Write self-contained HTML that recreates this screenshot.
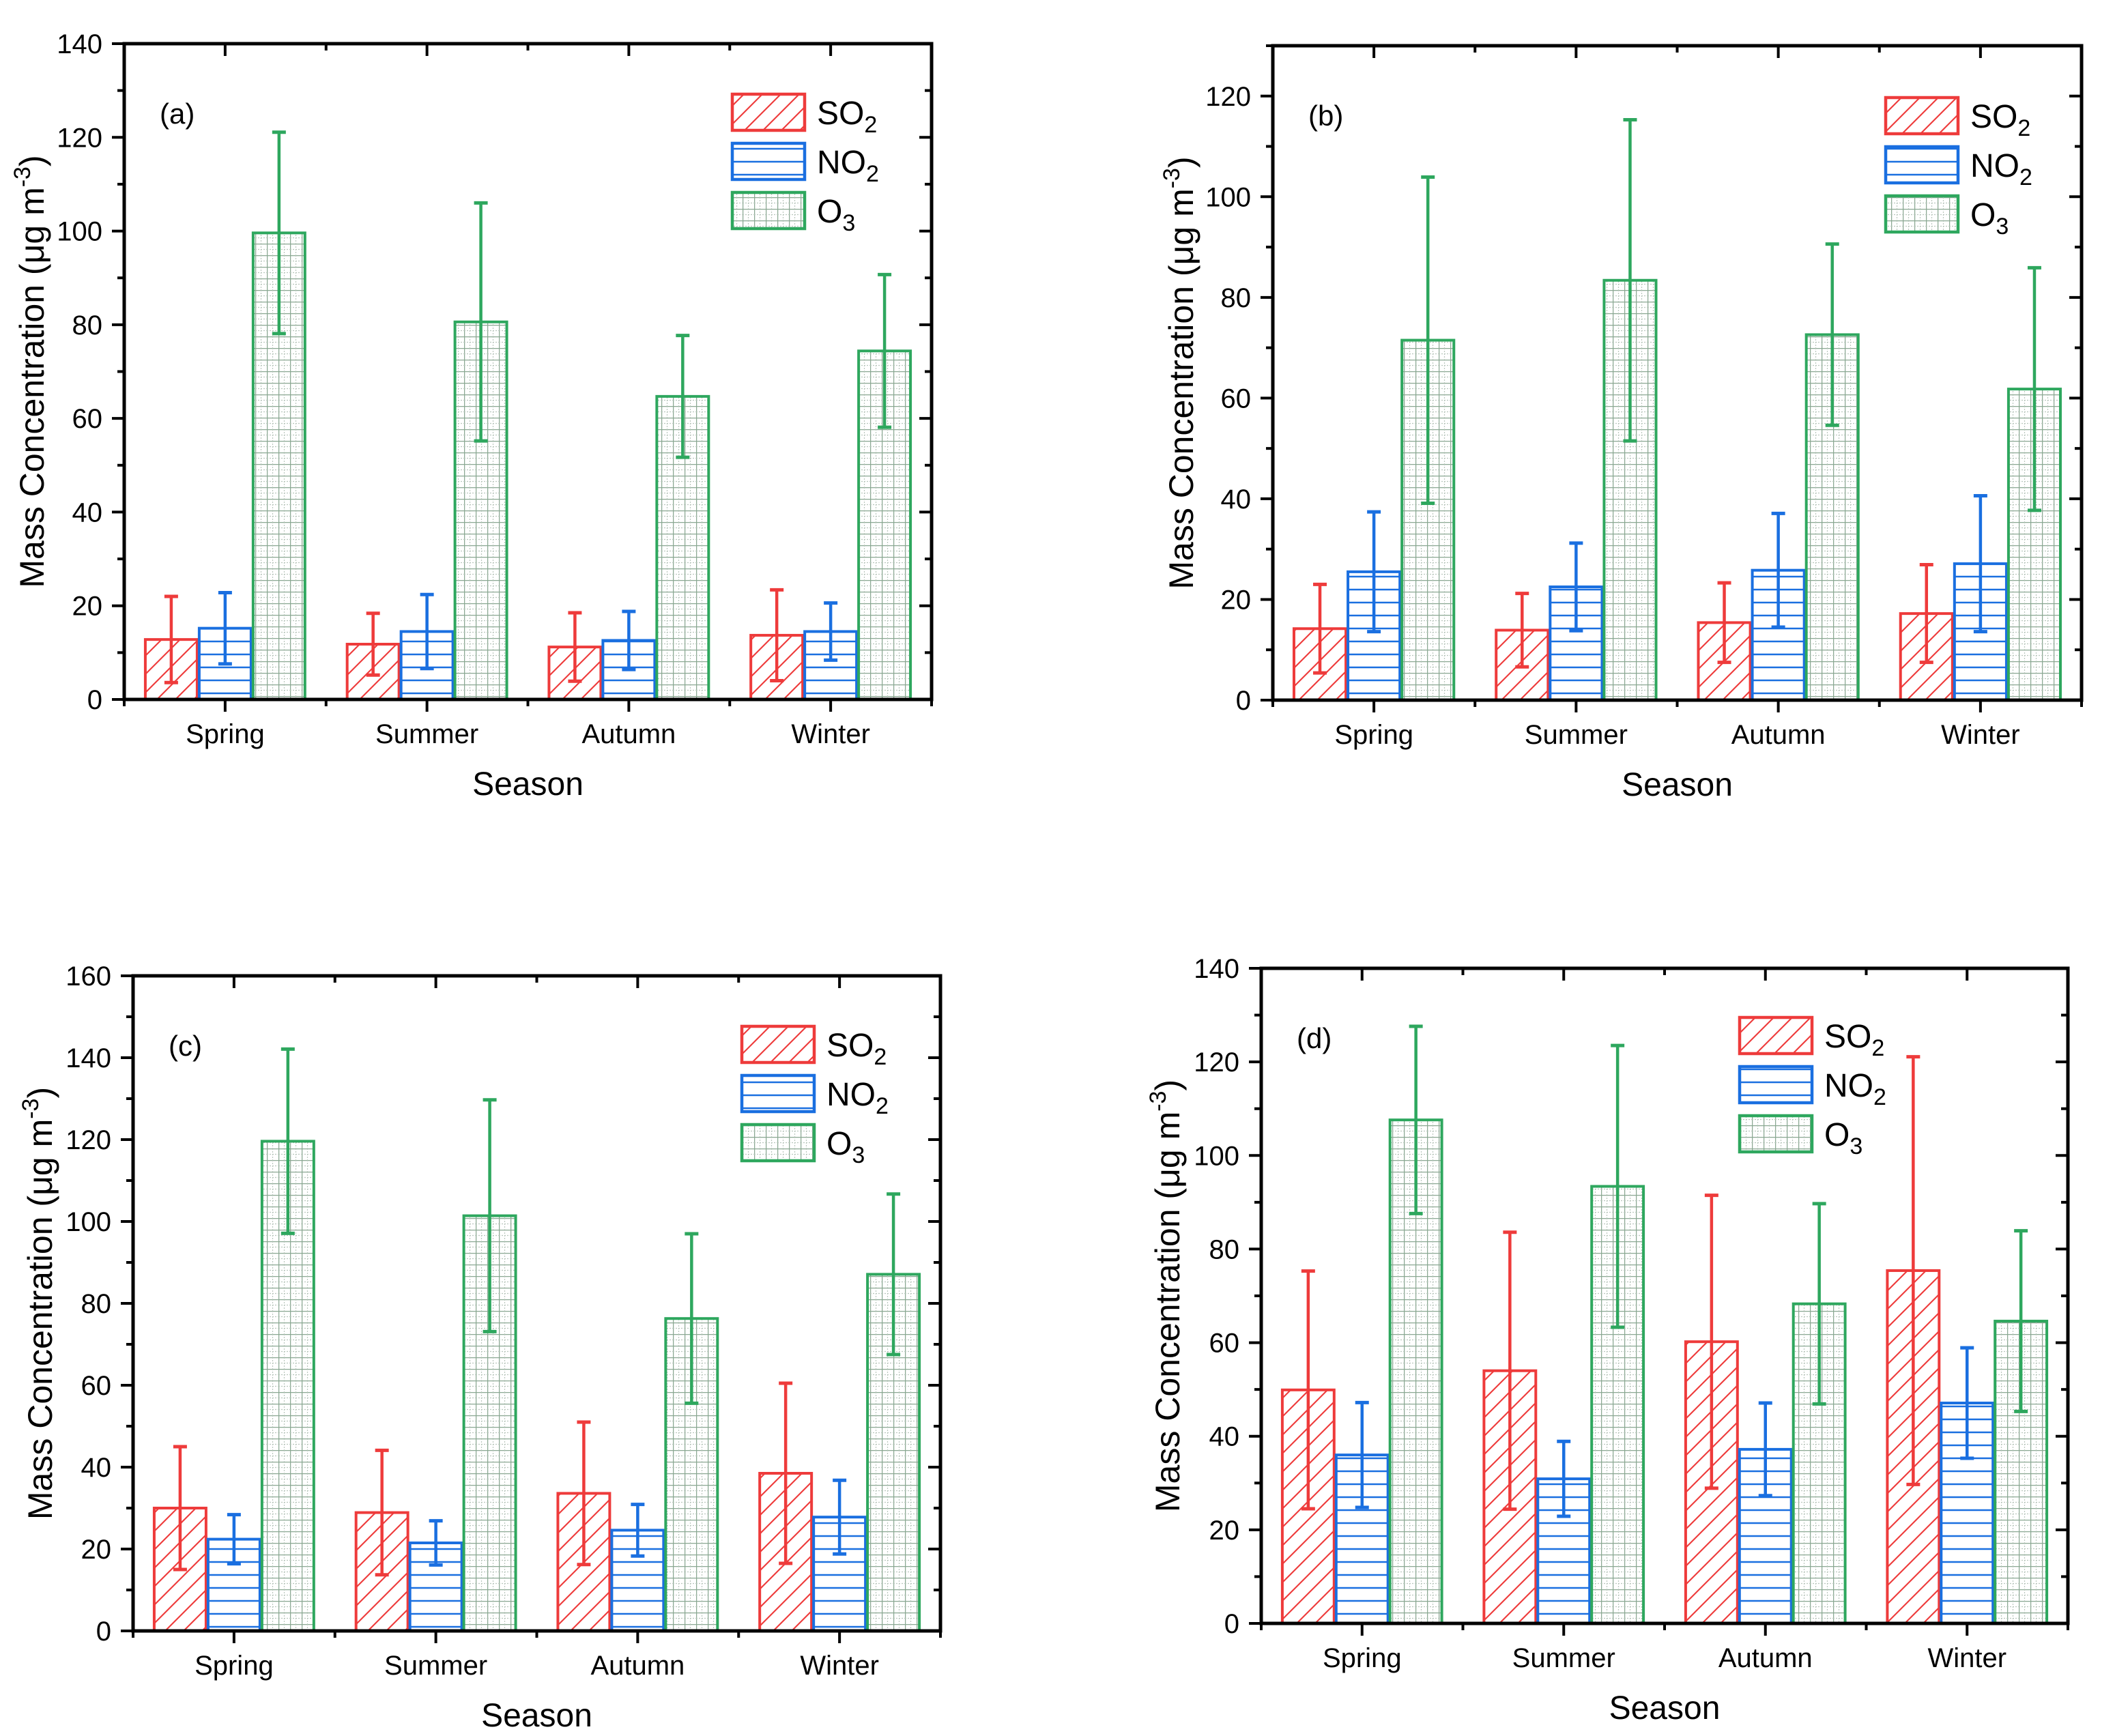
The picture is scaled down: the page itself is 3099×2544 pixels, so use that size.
<!DOCTYPE html>
<html><head><meta charset="utf-8">
<style>
html,body{margin:0;padding:0;background:#fff;}
svg{display:block;font-family:"Liberation Sans",Arial,sans-serif;}
</style></head>
<body>
<svg id="chart" width="3099" height="2544" viewBox="0 0 3099 2544" xmlns="http://www.w3.org/2000/svg">
<defs>
<pattern id="pSO2" patternUnits="userSpaceOnUse" width="27" height="27" patternTransform="skewX(-45)">
<rect width="27" height="27" fill="#fff"/>
<line x1="13" y1="0" x2="13" y2="27" stroke="#ee3b3b" stroke-width="3"/>
</pattern>
<pattern id="pNO2" patternUnits="userSpaceOnUse" width="20" height="19">
<rect width="20" height="19" fill="#fff"/>
<line x1="0" y1="9" x2="20" y2="9" stroke="#1a6fe0" stroke-width="2.5"/>
</pattern>
<pattern id="pO3" patternUnits="userSpaceOnUse" width="17" height="17">
<rect width="17" height="17" fill="#fff"/>
<line x1="0" y1="0.5" x2="17" y2="0.5" stroke="#8aa892" stroke-width="1.5"/>
<line x1="0.5" y1="0" x2="0.5" y2="17" stroke="#8aa892" stroke-width="1.5"/>
<line x1="0" y1="8.5" x2="17" y2="8.5" stroke="#b9c7bd" stroke-width="1.2" stroke-dasharray="2 2"/>
<line x1="8.5" y1="0" x2="8.5" y2="17" stroke="#b9c7bd" stroke-width="1.2" stroke-dasharray="2 2"/>
</pattern>
</defs>
</svg>
<script>
// ---- data ----
const categories = ["Spring","Summer","Autumn","Winter"];
const seriesNames = ["SO2","NO2","O3"];
// panel (a)
const aSO2 = [12.8, 11.8, 11.2, 13.7];
const aSO2err = [9.2, 6.6, 7.3, 9.7];
const aNO2 = [15.2, 14.5, 12.6, 14.5];
const aNO2err = [7.6, 7.9, 6.2, 6.1];
const aO3 = [99.6, 80.6, 64.7, 74.4];
const aO3err = [21.5, 25.4, 13.0, 16.3];
// panel (b)
const bSO2 = [14.2, 13.9, 15.4, 17.2];
const bSO2err = [8.8, 7.3, 7.9, 9.7];
const bNO2 = [25.5, 22.5, 25.8, 27.1];
const bNO2err = [11.9, 8.7, 11.3, 13.5];
const bO3 = [71.5, 83.4, 72.6, 61.8];
const bO3err = [32.4, 31.9, 18.0, 24.1];
// panel (c)
const cSO2 = [30.0, 28.9, 33.6, 38.5];
const cSO2err = [15.0, 15.2, 17.4, 22.0];
const cNO2 = [22.4, 21.5, 24.6, 27.8];
const cNO2err = [6.0, 5.4, 6.3, 9.0];
const cO3 = [119.6, 101.4, 76.3, 87.1];
const cO3err = [22.5, 28.3, 20.7, 19.6];
// panel (d)
const dSO2 = [49.9, 54.0, 60.2, 75.4];
const dSO2err = [25.4, 29.6, 31.3, 45.7];
const dNO2 = [36.0, 30.9, 37.2, 47.1];
const dNO2err = [11.2, 8.0, 9.9, 11.8];
const dO3 = [107.6, 93.4, 68.3, 64.6];
const dO3err = [20.0, 30.1, 21.4, 19.3];
// y-axis tick labels
const aTicks = [0,20,40,60,80,100,120,140];
const bTicks = [0,20,40,60,80,100,120];
const cTicks = [0,20,40,60,80,100,120,140,160];
const dTicks = [0,20,40,60,80,100,120,140];

const NS = "http://www.w3.org/2000/svg";
const svg = document.getElementById("chart");
const colors = ["#ee3b3b","#1a6fe0","#2ea75e"];
const fills = ["url(#pSO2)","url(#pNO2)","url(#pO3)"];

function mk(tag, attrs, parent){
  const e = document.createElementNS(NS, tag);
  for (const k in attrs) e.setAttribute(k, attrs[k]);
  (parent||svg).appendChild(e);
  return e;
}

function panel(id, L, R, T, B, ymax, ticks, series, errs, lab, legX, legY, titleX){
  const g = mk("g", {});
  
  
  const W = R - L;
  const yScale = v => B - v / ymax * (B - T);
  const groupW = W / categories.length;
  const barW = groupW * 0.267;
  const xCenter = i => L + (i + 0.5) * groupW;

  // bars
  for (let s = 0; s < 3; s++){
    for (let i = 0; i < categories.length; i++){
      const v = series[s][i];
      const x0 = xCenter(i) + (s - 1.5) * barW;
      const r = mk("rect", {x:x0+1.5, y:yScale(v), width:barW-3, height:B-yScale(v), fill:fills[s], stroke:colors[s], "stroke-width":4}, g);
      
      
    }
  }
  // error bars
  for (let s = 0; s < 3; s++){
    for (let i = 0; i < categories.length; i++){
      const v = series[s][i], e = errs[s][i];
      const cx = xCenter(i) + (s - 1) * barW;
      const eg = mk("g", {stroke:colors[s], fill:"none"}, g);
      
      
      mk("line", {x1:cx, x2:cx, y1:yScale(v+e), y2:yScale(Math.max(0,v-e)), "stroke-width":4.5}, eg);
      mk("line", {x1:cx-10, x2:cx+10, y1:yScale(v+e), y2:yScale(v+e), "stroke-width":5}, eg);
      mk("line", {x1:cx-10, x2:cx+10, y1:yScale(v-e), y2:yScale(v-e), "stroke-width":5}, eg);
    }
  }
  // frame
  const fr = mk("rect", {x:L, y:T, width:W, height:B-T, fill:"none", stroke:"#000", "stroke-width":5}, g);
  
  
  // y ticks
  const step = ticks[1] - ticks[0];
  for (let v = 0; v <= ymax + 0.001; v += step/2){
    const y = yScale(v);
    const major = Math.abs(v/step - Math.round(v/step)) < 0.01;
    const len = major ? 18 : 10;
    mk("line", {x1:L-len, x2:L, y1:y, y2:y, stroke:"#000", "stroke-width":4}, g);
    mk("line", {x1:R, x2:R-len, y1:y, y2:y, stroke:"#000", "stroke-width":4}, g);
  }
  ticks.forEach(v => {
    const t = mk("text", {x:L-32, y:yScale(v)+14, "text-anchor":"end", "font-size":40, fill:"#000"}, g);
    t.textContent = v;
    
    
  });
  // x ticks
  for (let k = 0; k <= categories.length*2; k++){
    const x = L + k * groupW / 2;
    const major = k % 2 === 1;
    const len = major ? 18 : 10;
    mk("line", {x1:x, x2:x, y1:B, y2:B+len, stroke:"#000", "stroke-width":4}, g);
    mk("line", {x1:x, x2:x, y1:T, y2:T+len, stroke:"#000", "stroke-width":4}, g);
  }
  categories.forEach((c, i) => {
    const t = mk("text", {x:xCenter(i), y:B+64, "text-anchor":"middle", "font-size":40, fill:"#000"}, g);
    t.textContent = c;
    
    
  });
  // axis titles
  const xt = mk("text", {x:(L+R)/2, y:B+140, "text-anchor":"middle", "font-size":48, fill:"#000"}, g);
  xt.textContent = "Season";
  
  
  const cy = (T+B)/2;
  const yt = mk("text", {x:titleX, y:cy, "text-anchor":"middle", "font-size":50, fill:"#000", transform:"rotate(-90 "+titleX+" "+cy+")", dy:"17"}, g);
  
  
  yt.appendChild(document.createTextNode("Mass Concentration (\u03bcg m"));
  const sup = mk("tspan", {"font-size":34, dy:-20}, yt);
  sup.textContent = "-3";
  const cl = mk("tspan", {dy:20}, yt);
  cl.textContent = ")";
  // panel label
  const pl = mk("text", {x:L+52, y:T+117, "font-size":42, fill:"#000"}, g);
  pl.textContent = "(" + id + ")";
  
  
  // legend
  const lg = mk("g", {}, g);
  
  
  const subs = ["2","2","3"], mains = ["SO","NO","O"];
  for (let s = 0; s < 3; s++){
    const y0 = T + legY + s*72;
    const e = mk("g", {}, lg);
    
    
    mk("rect", {x:L+legX, y:y0, width:106, height:53, fill:fills[s], stroke:colors[s], "stroke-width":4.5}, e);
    const t = mk("text", {x:L+legX+124, y:y0+44, "font-size":48, fill:"#000"}, e);
    t.appendChild(document.createTextNode(mains[s]));
    const sb = mk("tspan", {"font-size":34, dy:12}, t);
    sb.textContent = subs[s];
  }
}

panel("a", 182, 1365, 64, 1025, 140, aTicks, [aSO2,aNO2,aO3], [aSO2err,aNO2err,aO3err], "a", 891, 74, 47);
panel("b", 1865, 3050, 67, 1026, 130, bTicks, [bSO2,bNO2,bO3], [bSO2err,bNO2err,bO3err], "b", 898, 76, 1731);
panel("c", 195, 1378, 1430, 2390, 160, cTicks, [cSO2,cNO2,cO3], [cSO2err,cNO2err,cO3err], "c", 892, 74, 59);
panel("d", 1848, 3030, 1419, 2379, 140, dTicks, [dSO2,dNO2,dO3], [dSO2err,dNO2err,dO3err], "d", 701, 72, 1711);
</script>
</body></html>
